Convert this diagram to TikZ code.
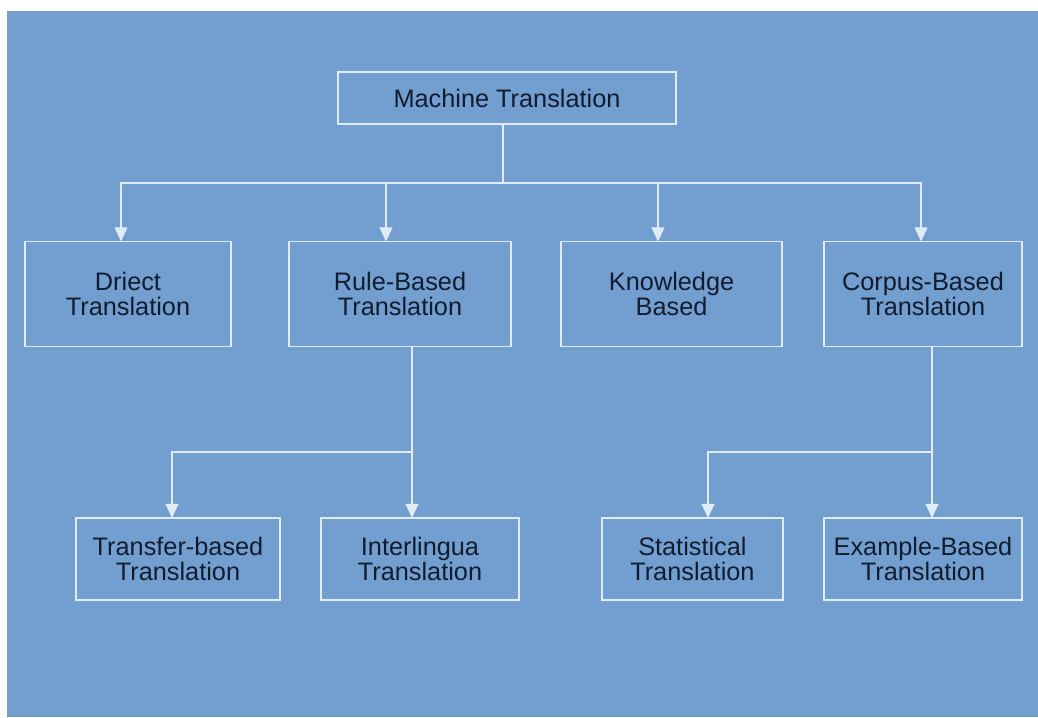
\documentclass[tikz,border=0pt]{standalone}
\usepackage{xcolor}
\usepackage{fontspec}
\setmainfont{Liberation Sans}
\usepackage{tikz}
\usetikzlibrary{arrows.meta}

\definecolor{bgblue}{RGB}{114,159,207}
\definecolor{linewhite}{RGB}{224,236,248}
\definecolor{textdark}{RGB}{18,28,48}

\tikzset{
  box/.style={draw=linewhite, line width=1.3pt, align=center, text=textdark,
    font=\fontsize{18}{18}\selectfont, inner sep=0pt},
  link/.style={draw=linewhite, line width=1.3pt, line cap=rect},
  arrow/.style={link, line cap=butt, -{Triangle[width=9pt,length=10pt]}}
}

\begin{document}
\begin{tikzpicture}[outer sep=0pt]
    % Hintergrund
    \useasboundingbox (0,0) rectangle (25.95,17.925);
    \fill[bgblue] (0.175,0) rectangle (25.95,17.65);

    % Wurzel
    \node[box, minimum width=8.45cm, minimum height=1.3cm] (mt) at (12.675,15.475) {Machine Translation};

    % Erste Ebene
    \node[box, minimum width=5.15cm, minimum height=2.625cm] (direct) at (3.2,10.575) {Driect\\Translation};
    \node[box, minimum width=5.55cm, minimum height=2.625cm] (rule) at (10.0,10.575) {Rule-Based\\Translation};
    \node[box, minimum width=5.525cm, minimum height=2.625cm] (knowledge) at (16.79,10.575) {Knowledge\\Based};
    \node[box, minimum width=4.95cm, minimum height=2.625cm] (corpus) at (23.075,10.575) {Corpus-Based\\Translation};

    % Zweite Ebene
    \node[box, minimum width=5.1cm, minimum height=2.05cm] (transfer) at (4.45,3.95) {Transfer-based\\Translation};
    \node[box, minimum width=4.95cm, minimum height=2.05cm] (interlingua) at (10.5,3.95) {Interlingua\\Translation};
    \node[box, minimum width=4.525cm, minimum height=2.05cm] (statistical) at (17.31,3.95) {Statistical\\Translation};
    \node[box, minimum width=4.95cm, minimum height=2.05cm] (example) at (23.075,3.95) {Example-Based\\Translation};

    % Verbindungen
    \coordinate (top) at ([xshift=-0.1cm]mt.south);
    \coordinate (bus) at (top |- 0,13.35);
    \draw[link] (top) -- (bus);
    \draw[link] ([xshift=-0.175cm]direct.north |- bus) -- ([xshift=-0.05cm]corpus.north |- bus);
    \draw[arrow] ([xshift=-0.175cm]direct.north |- bus) -- ([xshift=-0.175cm]direct.north);
    \draw[arrow] ([xshift=-0.35cm]rule.north |- bus) -- ([xshift=-0.35cm]rule.north);
    \draw[arrow] ([xshift=-0.34cm]knowledge.north |- bus) -- ([xshift=-0.34cm]knowledge.north);
    \draw[arrow] ([xshift=-0.05cm]corpus.north |- bus) -- ([xshift=-0.05cm]corpus.north);

    \coordinate (rulefork) at ([xshift=0.3cm]rule.south |- 0,6.625);
    \draw[arrow] ([xshift=0.3cm]rule.south) -- (rulefork |- interlingua.north);
    \draw[arrow] (rulefork) -| ([xshift=-0.15cm]transfer.north);

    \coordinate (corpusfork) at ([xshift=0.225cm]corpus.south |- 0,6.625);
    \draw[arrow] ([xshift=0.225cm]corpus.south) -- (corpusfork |- example.north);
    \draw[arrow] (corpusfork) -| ([xshift=0.39cm]statistical.north);
\end{tikzpicture}
\end{document}
